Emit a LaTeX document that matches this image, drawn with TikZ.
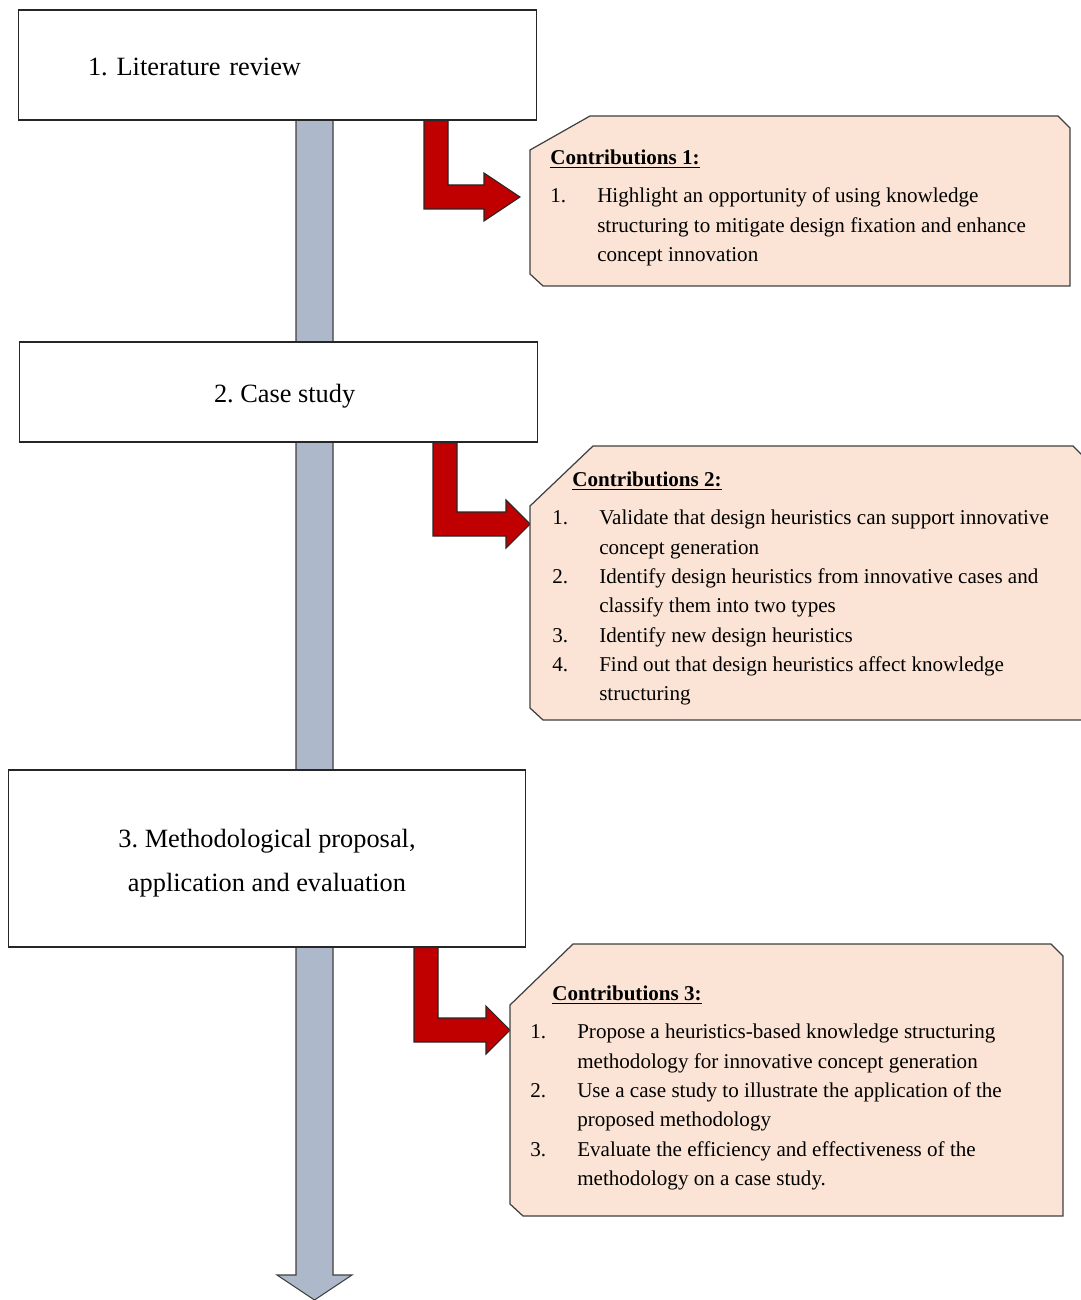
\documentclass[tikz,border=0pt]{standalone}
\usepackage{fontspec}
\setmainfont{Liberation Serif}
\usetikzlibrary{positioning,calc}
\definecolor{cFlow}{HTML}{ADB9CA}
\definecolor{cRed}{HTML}{C00000}
\definecolor{cPeach}{HTML}{FBE4D5}
\definecolor{cEdge}{HTML}{404040}
\tikzset{
  stage/.style={draw=black!85,fill=white,line width=0.6pt,inner sep=0pt,font=\fontsize{15}{25}\selectfont},
  flow/.style={draw=cEdge,fill=cFlow,line width=0.6pt},
  bentarrow/.style={draw=black!85,fill=cRed,line width=0.6pt},
  cbox/.style={draw=cEdge,fill=cPeach,line width=0.7pt},
  ctext/.style={anchor=north west,align=left,inner sep=0pt,font=\fontsize{12}{16.7}\selectfont},
}
\newcommand{\itemno}[1]{\makebox[26.7pt][l]{#1}}
\frenchspacing

\begin{document}
\begin{tikzpicture}[x=0.02cm,y=-0.02cm]
  \useasboundingbox (0,0) rectangle (1080,1300);
  % main flow
  \draw[flow] (296,10) -- (333,10) -- (333,1275) -- (352,1275) -- (314.5,1300) -- (277,1275) -- (296,1275) -- cycle;
  % stages
  \node[stage,minimum width=10.38cm,minimum height=2.2cm,text width=7.58cm,inner xsep=1.4cm,align=left] (lit) at (277.5,65) {\raisebox{-1.2pt}[\height][\depth]{1. Literature review}};
  \node[stage,minimum width=10.38cm,minimum height=2.0cm,align=center] (case) at (278.5,392) {\raisebox{-2.3pt}[\height][\depth]{\hspace*{7pt}2. Case study}};
  \node[stage,minimum width=10.36cm,minimum height=3.54cm] (method) at (267,858.5) {\raisebox{-1.2pt}[\height][\depth]{\begin{tabular}{@{}c@{}}3. Methodological proposal,\\application and evaluation\end{tabular}}};
  % bent arrows
  \foreach \s/\xl/\yb/\xh/\xt in {lit/424/185/484/520,case/433/512/506/530,method/414/1018/486/510}{
    \draw[bentarrow] (\s.south -| \xl,0) -- (\s.south -| \xl+24,0) -- (\xl+24,\yb) -- (\xh,\yb) -- (\xh,\yb-12) -- (\xt,\yb+12) -- (\xh,\yb+36) -- (\xh,\yb+24) -- (\xl,\yb+24) -- cycle;
  }
  % contribution boxes
  \foreach \xa/\ya/\xb/\yb/\cx/\cy in {530/116/1070/286/60/34,530/446/1085/720/63/60,510/944/1063/1216/63/61}{
    \draw[cbox] (\xa+\cx,\ya) -- (\xb-12,\ya) -- (\xb,\ya+12) -- (\xb,\yb) -- (\xa+13,\yb) -- (\xa,\yb-12) -- (\xa,\ya+\cy) -- cycle;
  }
  \node[ctext] (c1) at (550,150) {\underline{\textbf{Contributions 1:}}\\[4.8pt]
    \itemno{1.}Highlight an opportunity of using knowledge\\
    \itemno{}structuring to mitigate design fixation and enhance\\
    \itemno{}concept innovation};
  \node[ctext] (c2) at (552,472) {\hspace*{11.4pt}\underline{\textbf{Contributions 2:}}\\[4.8pt]
    \itemno{1.}Validate that design heuristics can support innovative\\
    \itemno{}concept generation\\
    \itemno{2.}Identify design heuristics from innovative cases and\\
    \itemno{}classify them into two types\\
    \itemno{3.}Identify new design heuristics\\
    \itemno{4.}Find out that design heuristics affect knowledge\\
    \itemno{}structuring};
  \node[ctext] (c3) at (530,986) {\hspace*{12.5pt}\underline{\textbf{Contributions 3:}}\\[4.8pt]
    \itemno{1.}Propose a heuristics-based knowledge structuring\\
    \itemno{}methodology for innovative concept generation\\
    \itemno{2.}Use a case study to illustrate the application of the\\
    \itemno{}proposed methodology\\
    \itemno{3.}Evaluate the efficiency and effectiveness of the\\
    \itemno{}methodology on a case study.};
\end{tikzpicture}
\end{document}
